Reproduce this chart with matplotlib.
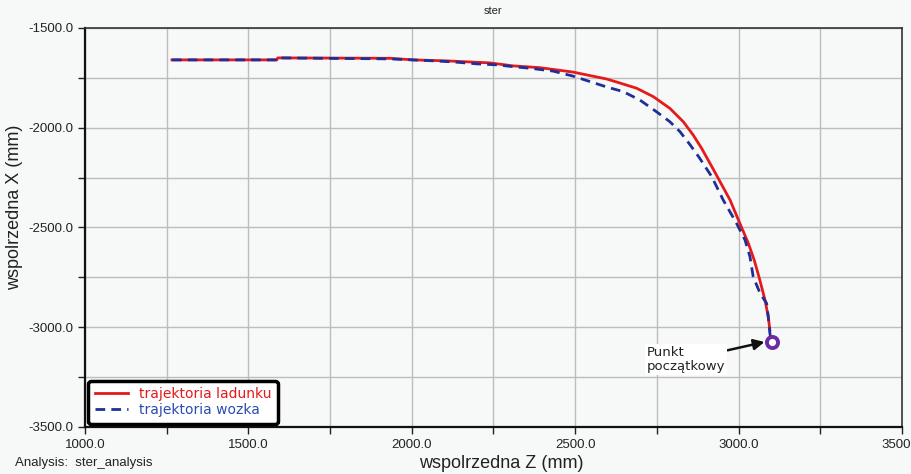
import matplotlib.pyplot as plt
from matplotlib.ticker import MultipleLocator, FormatStrFormatter

# trajektoria ladunku (red, solid)
z_lad = [1266, 1587, 1590, 1933, 2004, 2108, 2239, 2310, 2392, 2493, 2597, 2637, 2688,
         2739, 2790, 2831, 2861, 2887, 2920, 2974, 3004, 3030, 3048, 3063, 3081,
         3091, 3096]
x_lad = [-1660, -1660, -1650, -1652, -1660, -1665, -1675, -1690, -1699, -1721, -1756, -1776, -1802,
         -1844, -1903, -1970, -2036, -2103, -2200, -2362, -2479, -2579, -2663, -2750, -2863,
         -2947, -3014]

# trajektoria wozka (blue, dashed)
z_woz = [1266, 1587, 1590, 1933, 2056, 2126, 2200, 2261, 2310, 2362, 2432, 2493, 2597,
         2647, 2698, 2749, 2790, 2821, 2852, 2880, 2918, 2953, 2994, 3020, 3035, 3045,
         3066, 3086, 3091, 3096, 3100]
x_woz = [-1660, -1660, -1650, -1655, -1664, -1670, -1680, -1685, -1694, -1702, -1716, -1741, -1796,
         -1819, -1861, -1920, -1970, -2020, -2086, -2150, -2245, -2362, -2479, -2563, -2646, -2747,
         -2830, -2880, -2947, -3030, -3070]

start_z, start_x = 3102, -3074

bg = "#f7f9f8"
plt.rcParams["font.family"] = ["Liberation Sans", "DejaVu Sans"]

fig = plt.figure(figsize=(9.11, 4.74), dpi=100, facecolor=bg)
ax = fig.add_axes([0.0933, 0.0992, 0.8967, 0.8418])
ax.set_facecolor(bg)

ax.plot(z_lad, x_lad, color="#e41a1c", lw=2.0, label="trajektoria ladunku", zorder=3)
ax.plot(z_woz, x_woz, color="#1f2f9a", lw=2.0, ls=(0, (3.5, 2.2)),
        label="trajektoria wozka", zorder=4)
ax.plot([start_z], [start_x], "o", ms=8, mfc="white", mec="#6a2ca0", mew=2.8, zorder=5)

ax.annotate("Punkt\npoczątkowy", xy=(start_z - 14, start_x + 3), xytext=(2720, -3162),
            fontsize=9.5, family="DejaVu Sans", color="#222222", ha="left", va="center",
            linespacing=1.15,
            bbox=dict(boxstyle="square,pad=0.15", fc="white", ec="none"),
            arrowprops=dict(arrowstyle="-|>", color="#111111", lw=1.8,
                            mutation_scale=16, shrinkA=0, shrinkB=2))

ax.set_xlim(1000, 3500)
ax.set_ylim(-3500, -1500)
ax.xaxis.set_major_locator(MultipleLocator(500))
ax.xaxis.set_minor_locator(MultipleLocator(250))
ax.yaxis.set_major_locator(MultipleLocator(500))
ax.yaxis.set_minor_locator(MultipleLocator(250))
ax.xaxis.set_major_formatter(FormatStrFormatter("%.1f"))
ax.yaxis.set_major_formatter(FormatStrFormatter("%.1f"))
ax.grid(True, which="both", color="#bdbdbd", lw=1)
ax.set_axisbelow(True)
ax.tick_params(which="both", direction="out", length=5, width=1, labelsize=9.5,
               colors="#222222")
for s in ["left", "bottom"]:
    ax.spines[s].set_linewidth(1.6)
    ax.spines[s].set_color("#111111")
for s in ["top", "right"]:
    ax.spines[s].set_linewidth(1.2)
    ax.spines[s].set_color("#333333")

ax.set_title("ster", fontsize=8, pad=10, color="#222222")
ax.set_xlabel("wspolrzedna Z (mm)", fontsize=13, color="#222222")
ax.set_ylabel("wspolrzedna X (mm)", fontsize=13, color="#222222")
ax.xaxis.set_label_coords(0.509, -0.07)
ax.yaxis.set_label_coords(-0.076, 0.55)

leg = ax.legend(loc="lower left", prop={"family": "DejaVu Sans", "size": 10},
                frameon=True, fancybox=True, borderaxespad=0.25, handlelength=2.4,
                handletextpad=0.8, borderpad=0.45, labelspacing=0.15)
leg.get_frame().set_edgecolor("black")
leg.get_frame().set_linewidth(2.5)
leg.get_frame().set_facecolor("white")
leg.get_frame().set_alpha(1)
leg.get_texts()[0].set_color("#e41a1c")
leg.get_texts()[1].set_color("#2b4cb0")

fig.text(0.016, 0.016, "Analysis:  ster_analysis", fontsize=9.5, color="#222222")

fig.savefig("out.png", dpi=100, facecolor=bg)
